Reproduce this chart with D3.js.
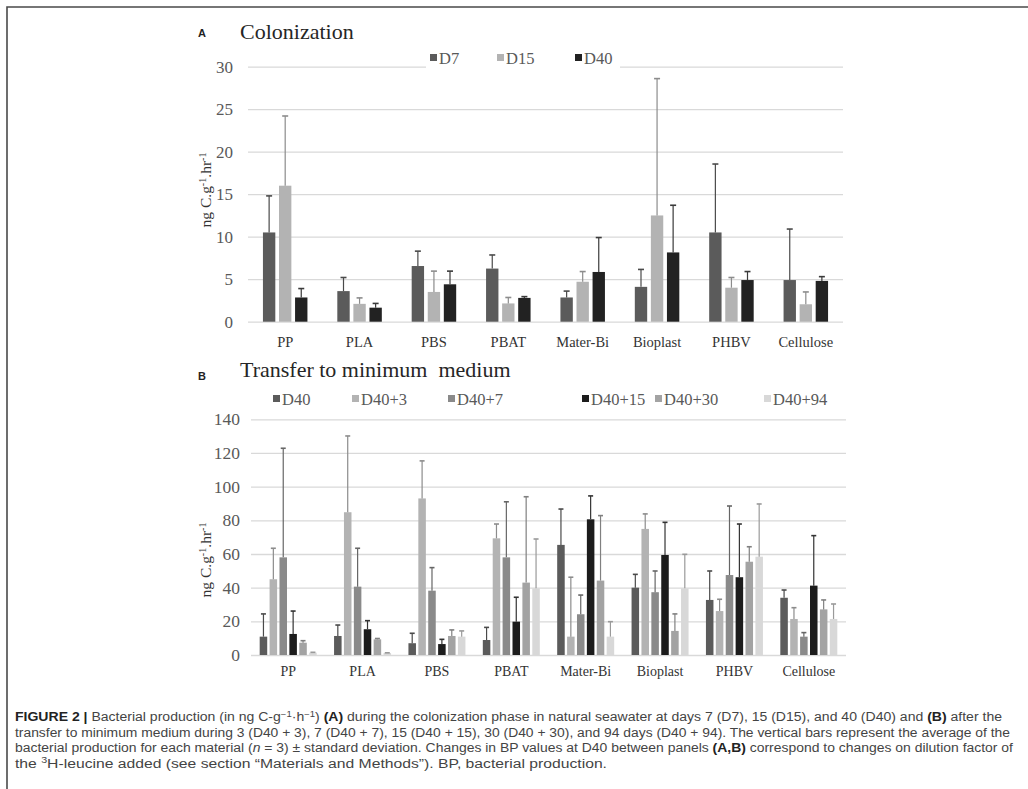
<!DOCTYPE html>
<html><head><meta charset="utf-8">
<script src="https://cdn.jsdelivr.net/npm/d3@7"></script>
<style>html,body{margin:0;padding:0;background:#fff;} svg{display:block;}</style>
</head><body>
<svg id="chart" width="1028" height="789"></svg>
<script>
// ---------- DATA ----------
const categories = ["PP","PLA","PBS","PBAT","Mater-Bi","Bioplast","PHBV","Cellulose"];

// Panel A: Colonization
const seriesA = ["D7","D15","D40"];
const meanA_D7  = [10.5, 3.6, 6.55, 6.25, 2.85, 4.1, 10.5, 4.9];
const sdA_D7    = [4.3, 1.6, 1.75, 1.6, 0.75, 2.05, 8.05, 6.0];
const meanA_D15 = [16.0, 2.1, 3.5, 2.15, 4.7, 12.5, 4.0, 2.05];
const sdA_D15   = [8.2, 0.7, 2.45, 0.7, 1.2, 16.1, 1.2, 1.45];
const meanA_D40 = [2.85, 1.65, 4.4, 2.8, 5.85, 8.15, 4.9, 4.8];
const sdA_D40   = [1.05, 0.5, 1.55, 0.15, 4.05, 5.55, 1.0, 0.5];
const ticksA = [0, 5, 10, 15, 20, 25, 30];

// Panel B: Transfer to minimum medium
const seriesB = ["D40","D40+3","D40+7","D40+15","D40+30","D40+94"];
const meanB_D40   = [10.9, 11.3, 7.0, 8.9, 65.4, 40.0, 32.7, 34.0];
const sdB_D40     = [13.5, 6.5, 5.9, 7.5, 21.3, 7.9, 17.2, 4.6];
const meanB_D40p3 = [45.0, 84.8, 93.0, 69.3, 10.9, 74.9, 26.1, 21.4];
const sdB_D40p3   = [18.4, 45.3, 22.3, 8.5, 35.3, 8.9, 7.0, 6.7];
const meanB_D40p7 = [58.0, 40.6, 38.2, 58.0, 24.2, 37.3, 47.5, 10.9];
const sdB_D40p7   = [64.8, 22.8, 13.7, 33.0, 11.4, 12.6, 41.0, 2.4];
const meanB_D40p15 = [12.5, 15.3, 6.5, 19.8, 80.6, 59.4, 46.2, 41.2];
const sdB_D40p15   = [13.6, 5.1, 2.8, 14.5, 13.9, 19.4, 31.6, 29.7];
const meanB_D40p30 = [7.3, 9.3, 11.3, 43.0, 44.2, 14.3, 55.4, 27.1];
const sdB_D40p30   = [1.2, 0.5, 3.6, 51.0, 38.6, 10.1, 8.9, 5.6];
const meanB_D40p94 = [1.4, 1.2, 10.9, 39.6, 10.9, 39.6, 58.4, 21.4];
const sdB_D40p94   = [0.2, 0.1, 3.4, 29.3, 8.9, 20.2, 31.3, 8.9];
const ticksB = [0, 20, 40, 60, 80, 100, 120, 140];

// ---------- STYLE ----------
const colorsA = ["#5b5b5b", "#b3b3b3", "#222222"];
const errColorsA = ["#4a4a4a", "#8c8c8c", "#3a3a3a"];
const colorsB = ["#5b5b5b", "#b3b3b3", "#8a8a8a", "#1c1c1c", "#a3a3a3", "#d8d8d8"];
const errColorsB = ["#4a4a4a", "#8c8c8c", "#666666", "#333333", "#808080", "#9a9a9a"];
const serif = "'Liberation Serif', 'Times New Roman', serif";
const sans = "'Liberation Sans', Arial, sans-serif";

const svg = d3.select("#chart");
svg.append("rect").attr("width", 1028).attr("height", 789).attr("fill", "#fff");
// figure frame (left and top edges visible)
svg.append("path").attr("d", "M7,800 L7,7 L1040,7")
  .attr("fill", "none").attr("stroke", "#4a4a4a").attr("stroke-width", 1.6);

function drawPanel(cfg) {
  const g = svg.append("g");
  const x0 = d3.scaleBand().domain(categories).range([cfg.left, cfg.right]);
  const x1 = d3.scaleBand().domain(cfg.series).range([0, x0.bandwidth()])
    .paddingInner(cfg.padIn).paddingOuter(cfg.padOut);
  const y = d3.scaleLinear().domain([0, cfg.max]).range([cfg.zeroY, cfg.topY]);

  // gridlines + y tick labels
  const yAxis = d3.axisLeft(y).tickValues(cfg.ticks).tickSize(-(cfg.right - cfg.left))
    .tickPadding(cfg.tickPad).tickFormat(d3.format("d"));
  const ya = g.append("g").attr("transform", `translate(${cfg.left},0)`).call(yAxis);
  ya.select(".domain").remove();
  ya.selectAll(".tick line").attr("stroke", "#d9d9d9").attr("stroke-width", 1.3);
  ya.selectAll(".tick text").attr("font-family", serif).attr("font-size", cfg.tickFont)
    .attr("fill", "#595959");

  // legend (white background box hides gridline)
  const lg = g.append("g");
  if (cfg.legendBg) {
    lg.append("rect").attr("x", cfg.legendBg[0]).attr("y", cfg.legendBg[1])
      .attr("width", cfg.legendBg[2]).attr("height", cfg.legendBg[3]).attr("fill", "#fff");
  }
  cfg.series.forEach((s, i) => {
    const lx = cfg.legendX[i];
    lg.append("rect").attr("x", lx).attr("y", cfg.legendY - 10).attr("width", 7).attr("height", 7)
      .attr("fill", cfg.colors[i]);
    lg.append("text").attr("x", lx + 9).attr("y", cfg.legendY)
      .attr("font-family", serif).attr("font-size", cfg.legendFont).attr("fill", "#595959")
      .text(s);
  });

  // bars
  cfg.series.forEach((s, i) => {
    const means = cfg.means[i], sds = cfg.sds[i];
    const sg = g.append("g");
    sg.selectAll("rect").data(categories).join("rect")
      .attr("x", (c) => x0(c) + x1(s))
      .attr("y", (c, j) => y(means[j]))
      .attr("width", x1.bandwidth())
      .attr("height", (c, j) => y(0) - y(means[j]))
      .attr("fill", cfg.colors[i]);
    // error bars (upper)
    const eg = g.append("g").attr("stroke", cfg.errColors[i]).attr("stroke-width", 1.2);
    categories.forEach((c, j) => {
      const cx = x0(c) + x1(s) + x1.bandwidth() / 2;
      const yt = y(means[j] + sds[j]);
      eg.append("line").attr("x1", cx).attr("x2", cx).attr("y1", y(means[j])).attr("y2", yt);
      eg.append("line").attr("x1", cx - cfg.cap).attr("x2", cx + cfg.cap).attr("y1", yt).attr("y2", yt)
        .attr("stroke-width", 1.6);
    });
  });

  // x category labels
  const xAxis = d3.axisBottom(x0).tickSize(0).tickPadding(cfg.xPad);
  const xa = g.append("g").attr("transform", `translate(0,${cfg.zeroY})`).call(xAxis);
  xa.select(".domain").remove();
  xa.selectAll(".tick text").attr("font-family", serif).attr("font-size", cfg.catFont)
    .attr("fill", "#333");

  // panel letter + title
  g.append("text").attr("x", 198).attr("y", cfg.letterY).attr("font-family", sans)
    .attr("font-weight", "bold").attr("font-size", 11).attr("fill", "#222").text(cfg.letter);
  g.append("text").attr("x", 240).attr("y", cfg.titleY).attr("font-family", serif)
    .attr("font-size", 22).attr("fill", "#262626").attr("xml:space", "preserve").text(cfg.title);

  // y axis label
  const yl = g.append("text")
    .attr("transform", `translate(${cfg.yLabelX},${cfg.yLabelY}) rotate(-90)`)
    .attr("text-anchor", "middle").attr("font-family", serif).attr("font-size", cfg.yLabelFont)
    .attr("fill", "#333");
  yl.append("tspan").text("ng C.g");
  yl.append("tspan").attr("dy", -5).attr("font-size", cfg.yLabelFont * 0.65).text("-1");
  yl.append("tspan").attr("dy", 5).text(".hr");
  yl.append("tspan").attr("dy", -5).attr("font-size", cfg.yLabelFont * 0.65).text("-1");
}

drawPanel({
  series: seriesA, colors: colorsA, errColors: errColorsA,
  means: [meanA_D7, meanA_D15, meanA_D40], sds: [sdA_D7, sdA_D15, sdA_D40],
  left: 248, right: 843, zeroY: 321.7, topY: 66.7, max: 30, ticks: ticksA,
  padIn: 0.23, padOut: 0.93, tickPad: 15, tickFont: 17, xPad: 15, catFont: 14.5,
  cap: 3, legendX: [430, 497, 575], legendY: 64, legendFont: 16.5,
  legendBg: [426, 50, 194, 20],
  letter: "A", letterY: 37, title: "Colonization", titleY: 39,
  yLabelX: 211, yLabelY: 190, yLabelFont: 15.5
});

drawPanel({
  series: seriesB, colors: colorsB, errColors: errColorsB,
  means: [meanB_D40, meanB_D40p3, meanB_D40p7, meanB_D40p15, meanB_D40p30, meanB_D40p94],
  sds: [sdB_D40, sdB_D40p3, sdB_D40p7, sdB_D40p15, sdB_D40p30, sdB_D40p94],
  left: 251, right: 846, zeroY: 655, topY: 419.3, max: 140, ticks: ticksB,
  padIn: 0.24, padOut: 0.878, tickPad: 11, tickFont: 17.5, xPad: 11, catFont: 14,
  cap: 2.5, legendX: [273, 352, 448, 582, 655, 764], legendY: 405, legendFont: 16.5,
  legendBg: null,
  letter: "B", letterY: 380, title: "Transfer to minimum  medium", titleY: 377,
  yLabelX: 211, yLabelY: 560, yLabelFont: 15.5
});

// ---------- CAPTION ----------
const cap = svg.append("g").attr("font-family", sans).attr("font-size", 12.5).attr("fill", "#444");
function capLine(y, parts, len) {
  const t = cap.append("text").attr("x", 15).attr("y", y).attr("xml:space", "preserve");
  parts.forEach(p => {
    const ts = t.append("tspan").text(p.t);
    if (p.b) ts.attr("font-weight", "bold").attr("fill", "#222");
    if (p.i) ts.attr("font-style", "italic");
    if (p.sup) ts.attr("dy", -4.5).attr("font-size", 8.5);
    if (p.unsup) ts.attr("dy", 4.5);
  });
  if (len) t.attr("textLength", len).attr("lengthAdjust", "spacingAndGlyphs");
  return t;
}
capLine(721, [
  {t: "FIGURE 2 | ", b: true}, {t: "Bacterial production (in ng C-g"}, {t: "−1", sup: true},
  {t: "·h", unsup: true}, {t: "−1", sup: true}, {t: ") ", unsup: true}, {t: "(A)", b: true},
  {t: " during the colonization phase in natural seawater at days 7 (D7), 15 (D15), and 40 (D40) and "},
  {t: "(B)", b: true}, {t: " after the"}
], 987);
capLine(736.5, [
  {t: "transfer to minimum medium during 3 (D40 + 3), 7 (D40 + 7), 15 (D40 + 15), 30 (D40 + 30), and 94 days (D40 + 94). The vertical bars represent the average of the"}
], 995);
capLine(752, [
  {t: "bacterial production for each material ("}, {t: "n", i: true},
  {t: " = 3) ± standard deviation. Changes in BP values at D40 between panels "},
  {t: "(A,B)", b: true}, {t: " correspond to changes on dilution factor of"}
], 998);
capLine(767.5, [
  {t: "the "}, {t: "3", sup: true}, {t: "H-leucine added (see section “Materials and Methods”). BP, bacterial production.", unsup: true}
], 592);
</script>
</body></html>
